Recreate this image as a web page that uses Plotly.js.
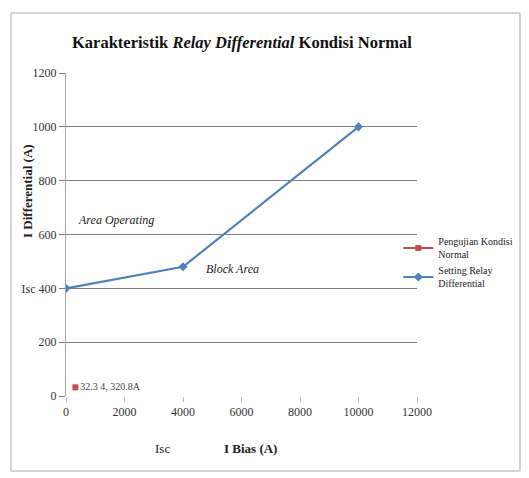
<!DOCTYPE html>
<html>
<head>
<meta charset="utf-8">
<script src="https://cdn.plot.ly/plotly-3.0.1.min.js"></script>
<style>
html,body{margin:0;padding:0;background:#fff;}
#wrap{position:relative;width:529px;height:478px;}
#chart{width:529px;height:478px;}
#frame{position:absolute;left:10px;top:12px;width:511px;height:460px;border:2px solid #d4d4d4;border-radius:2px;pointer-events:none;box-sizing:border-box;}
</style>
</head>
<body>
<div id="wrap"><div id="chart"></div><div id="frame"></div></div>
<script>
// Data
var settingX = [0, 4000, 10000];
var settingY = [400, 480, 1000];
var testX = [320.8];
var testY = [32.34];
var testLabel = ["32.3 4, 320.8A"];
var yTickVals = [0, 200, 400, 600, 800, 1000, 1200];
var yTickText = ["0", "200", "Isc 400", "600", "800", "1000", "1200"];
var xTickVals = [0, 2000, 4000, 6000, 8000, 10000, 12000];

var serif = "Liberation Serif";

var traces = [
  {
    x: testX, y: testY, name: "Pengujian Kondisi<br>Normal",
    mode: "lines+markers+text", text: testLabel, textposition: "middle right",
    textfont: {family: serif, size: 10, color: "#444"},
    line: {color: "#C0504D", width: 2},
    marker: {symbol: "square", size: 6, color: "#C0504D"}
  },
  {
    x: settingX, y: settingY, name: "Setting Relay<br>Differential",
    mode: "lines+markers",
    line: {color: "#4F81BD", width: 2.2},
    marker: {symbol: "diamond", size: 7, color: "#4F81BD"}
  }
];

var layout = {
  width: 529, height: 478,
  font: {family: serif, color: "#222"},
  margin: {l: 66, r: 112, t: 73, b: 82, autoexpand: false},
  paper_bgcolor: "#fff", plot_bgcolor: "#fff",
  showlegend: true,
  legend: {xref: "container", yref: "container", x: 0.753, y: 0.522, xanchor: "left", yanchor: "top",
           font: {family: serif, size: 10, color: "#222"},
           tracegroupgap: 8, bgcolor: "rgba(0,0,0,0)", itemwidth: 30},
  xaxis: {
    range: [0, 12000], tickvals: xTickVals, ticktext: xTickVals.map(String),
    showgrid: false, zeroline: false,
    showline: false, ticks: "outside", ticklen: 5, tickcolor: "#bbb",
    tickfont: {family: serif, size: 12, color: "#333"}, automargin: false
  },
  yaxis: {
    range: [0, 1200], tickvals: yTickVals, ticktext: yTickText,
    showgrid: true, gridcolor: "#7f7f7f", gridwidth: 1,
    zeroline: false, showline: true, linecolor: "#a6a6a6",
    ticks: "outside", ticklen: 6, tickcolor: "#7f7f7f",
    tickfont: {family: serif, size: 12, color: "#333"}, automargin: false
  },
  annotations: [
    {x: 242, y: 42, xref: "paper", yref: "paper",
     text: "<b>Karakteristik <i>Relay Differential</i> Kondisi Normal</b>", showarrow: false,
     font: {family: serif, size: 16.5, color: "#111"}},
    {x: 1700, y: 655, xref: "x", yref: "y", text: "<i>Area Operating</i>", showarrow: false,
     font: {family: serif, size: 12, color: "#222"}},
    {x: 5700, y: 472, xref: "x", yref: "y", text: "<i>Block Area</i>", showarrow: false,
     font: {family: serif, size: 12, color: "#222"}},
    {x: 162, y: 448, xref: "paper", yref: "paper", text: "Isc", showarrow: false,
     font: {family: serif, size: 13, color: "#222"}},
    {x: 250, y: 448, xref: "paper", yref: "paper", text: "<b>I Bias (A)</b>", showarrow: false,
     font: {family: serif, size: 13, color: "#222"}},
    {x: 27, y: 191, xref: "paper", yref: "paper", text: "<b>I Differential (A)</b>", showarrow: false,
     textangle: -90, font: {family: serif, size: 13, color: "#222"}}
  ]
};

// convert pixel-positioned paper annotations
var pw = 529 - 66 - 112, ph = 478 - 73 - 82;
layout.annotations.forEach(function(a){
  if (a.xref === "paper") {
    a.x = (a.x - 66) / pw;
    a.y = (478 - 82 - a.y) / ph;
    a.xanchor = "center"; a.yanchor = "middle";
  }
});

Plotly.newPlot("chart", traces, layout, {displayModeBar: false, staticPlot: true});
</script>
</body>
</html>
